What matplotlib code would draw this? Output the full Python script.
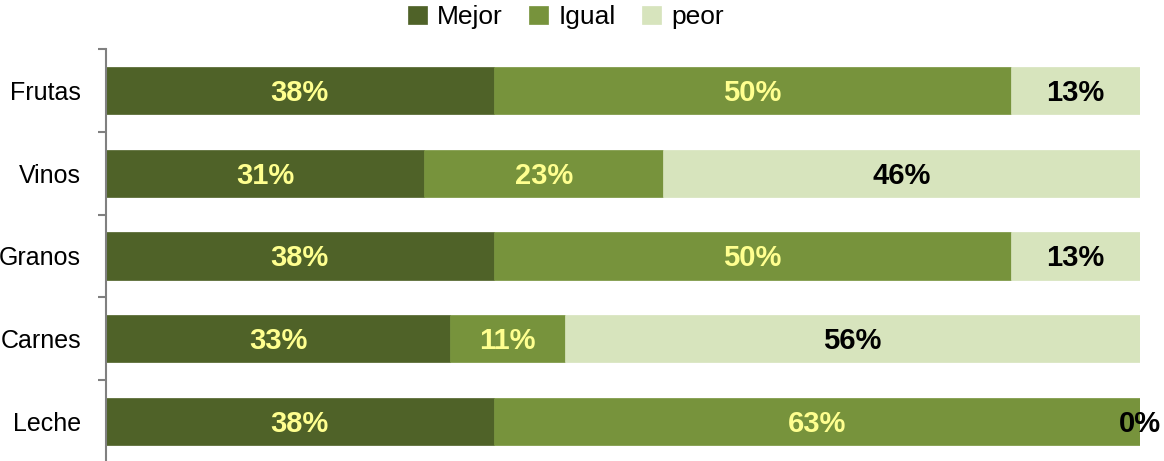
import matplotlib
matplotlib.use("Agg")
import matplotlib.pyplot as plt
import numpy as np

categories = ["Frutas", "Vinos", "Granos", "Carnes", "Leche"]
mejor = [37.5, 30.8, 37.5, 33.3, 37.5]
igual = [50.0, 23.1, 50.0, 11.1, 62.5]
peor = [12.5, 46.2, 12.5, 55.6, 0.0]
mejor_lbl = ["38%", "31%", "38%", "33%", "38%"]
igual_lbl = ["50%", "23%", "50%", "11%", "63%"]
peor_lbl = ["13%", "46%", "13%", "56%", "0%"]
series_names = ["Mejor", "Igual", "peor"]

colors = ["#4F6228", "#77933C", "#D7E4BD"]
lbl_colors = ["#FFFF8F", "#FFFF8F", "#000000"]

plt.rcParams['font.family'] = ['Liberation Sans', 'DejaVu Sans']

fig = plt.figure(figsize=(11.64, 4.61), dpi=100)
ax = fig.add_axes([106/1164, 1 - 463/461, (1140-106)/1164, (463-49)/461])

y = np.arange(len(categories))
left = np.zeros(len(categories))
handles = []
for vals, lbls, col, lc, name in zip([mejor, igual, peor], [mejor_lbl, igual_lbl, peor_lbl],
                                     colors, lbl_colors, series_names):
    vals = np.array(vals)
    b = ax.barh(y, vals, left=left, height=0.57, color=col, label=name,
                edgecolor=col, linewidth=0.5)
    handles.append(b)
    for yi, l, v, t in zip(y, left, vals, lbls):
        ax.text(l + v/2, yi + 0.03, t, ha="center", va="center", fontsize=21,
                fontweight="bold", color=lc)
    left = left + vals

ax.set_xlim(0, 100)
ax.set_ylim(4.5, -0.5)
ax.set_yticks(y)
ax.set_yticklabels(categories, fontsize=18)
ax.tick_params(axis="y", which="major", length=0, pad=18)
ax.set_yticks(np.arange(-0.5, 5.0, 1.0), minor=True)
ax.tick_params(axis="y", which="minor", length=5.5, width=1.5, color="#808080")
ax.set_xticks([])
for s in ["top", "right", "bottom"]:
    ax.spines[s].set_visible(False)
ax.spines["left"].set_color("#808080")
ax.spines["left"].set_linewidth(1.5)

fig.legend(handles=handles, labels=series_names, loc="center",
           bbox_to_anchor=(566/1164, 1 - 17/461), ncol=3, frameon=False,
           fontsize=19, handlelength=0.7, handleheight=0.7,
           handletextpad=0.4, columnspacing=1.0)

fig.savefig("out.png", dpi=100)
